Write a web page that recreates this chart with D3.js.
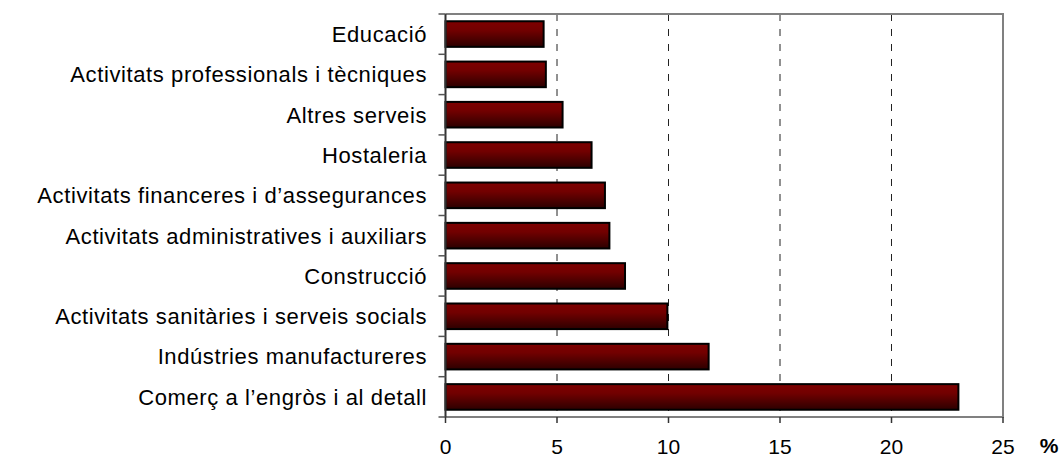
<!DOCTYPE html>
<html>
<head>
<meta charset="utf-8">
<script src="https://cdn.jsdelivr.net/npm/d3@7"></script>
<style>
  body { margin: 0; background: #fff; }
  text { font-family: "Liberation Sans", Arial, sans-serif; fill: #000; }
</style>
</head>
<body>
<div id="chart"></div>
<script>
var categories = [
  'Educació',
  'Activitats professionals i tècniques',
  'Altres serveis',
  'Hostaleria',
  'Activitats financeres i d\u2019assegurances',
  'Activitats administratives i auxiliars',
  'Construcció',
  'Activitats sanitàries i serveis socials',
  'Indústries manufactureres',
  'Comerç a l\u2019engròs i al detall'
];
var values = [4.4, 4.5, 5.25, 6.55, 7.15, 7.35, 8.05, 9.95, 11.8, 23.0];
var xTicks = [0, 5, 10, 15, 20, 25];

var W = 1061, H = 461,
    m = { left: 445.5, top: 14, right: 58, bottom: 44 };

var svg = d3.select('#chart').append('svg')
            .attr('width', W)
            .attr('height', H);

var defs = svg.append('defs');
var grad = defs.append('linearGradient')
               .attr('id', 'barGrad')
               .attr('x1', 0).attr('y1', 0).attr('x2', 0).attr('y2', 1);
grad.append('stop').attr('offset', '0%').attr('stop-color', '#7e0000');
grad.append('stop').attr('offset', '35%').attr('stop-color', '#720000');
grad.append('stop').attr('offset', '100%').attr('stop-color', '#2c0000');

var x = d3.scaleLinear().domain([0, 25]).range([m.left, W - m.right]),
    y = d3.scaleBand().domain(categories).range([m.top, H - m.bottom]).paddingInner(0.365).paddingOuter(0.18);

var yb = d3.scaleBand().domain(categories).range([m.top, H - m.bottom]); // boundaries for ticks

// dashed gridlines
svg.append('g')
   .selectAll('line')
   .data(xTicks.filter(function(d) { return d > 0 && d < 25; }))
   .enter()
     .append('line')
     .attr('x1', function(d) { return x(d); })
     .attr('x2', function(d) { return x(d); })
     .attr('y1', m.top)
     .attr('y2', H - m.bottom)
     .attr('stroke', '#222')
     .attr('stroke-width', 1)
     .attr('stroke-dasharray', '7,8');

// frame (top, right, bottom)
svg.append('path')
   .attr('d', 'M' + m.left + ',' + m.top + 'H' + x(25) + 'V' + (H - m.bottom) + 'H' + m.left)
   .attr('fill', 'none')
   .attr('stroke', '#808080')
   .attr('stroke-width', 2);

// bars
svg.append('g')
   .selectAll('.bar')
   .data(values)
   .enter()
     .append('rect')
     .attr('class', 'bar')
     .attr('x', x(0))
     .attr('y', function(d, i) { return y(categories[i]); })
     .attr('width', function(d) { return x(d) - x(0); })
     .attr('height', y.bandwidth())
     .attr('fill', 'url(#barGrad)')
     .attr('stroke', '#000')
     .attr('stroke-width', 2);

// left axis
var yAxis = svg.append('g');
yAxis.append('line')
     .attr('x1', m.left).attr('x2', m.left)
     .attr('y1', m.top).attr('y2', H - m.bottom)
     .attr('stroke', '#333').attr('stroke-width', 2);
yAxis.selectAll('.ytick')
     .data(categories.concat(['end']))
     .enter()
       .append('line')
       .attr('x1', m.left - 7).attr('x2', m.left)
       .attr('y1', function(d, i) { return i < categories.length ? yb(d) : H - m.bottom; })
       .attr('y2', function(d, i) { return i < categories.length ? yb(d) : H - m.bottom; })
       .attr('stroke', '#555').attr('stroke-width', 1.5);
yAxis.selectAll('.ylabel')
     .data(categories)
     .enter()
       .append('text')
       .attr('x', 427)
       .attr('y', function(d) { return yb(d) + yb.bandwidth() / 2; })
       .attr('dy', '0.36em')
       .attr('text-anchor', 'end')
       .attr('font-size', 22)
       .attr('letter-spacing', 0.6)
       .text(function(d) { return d; });

// bottom axis
var xAxis = svg.append('g');
xAxis.selectAll('.xtick')
     .data(xTicks)
     .enter()
       .append('line')
       .attr('x1', function(d) { return x(d); })
       .attr('x2', function(d) { return x(d); })
       .attr('y1', H - m.bottom)
       .attr('y2', H - m.bottom + 6)
       .attr('stroke', '#333').attr('stroke-width', 1.5);
xAxis.selectAll('.xlabel')
     .data(xTicks)
     .enter()
       .append('text')
       .attr('x', function(d) { return x(d); })
       .attr('y', 446)
       .attr('dy', '0.36em')
       .attr('text-anchor', 'middle')
       .attr('font-size', 21)
       .text(function(d) { return d; });

svg.append('text')
   .attr('x', 1049)
   .attr('y', 445)
   .attr('dy', '0.36em')
   .attr('text-anchor', 'middle')
   .attr('font-size', 21)
   .attr('font-weight', 'bold')
   .text('%');
</script>
</body>
</html>
